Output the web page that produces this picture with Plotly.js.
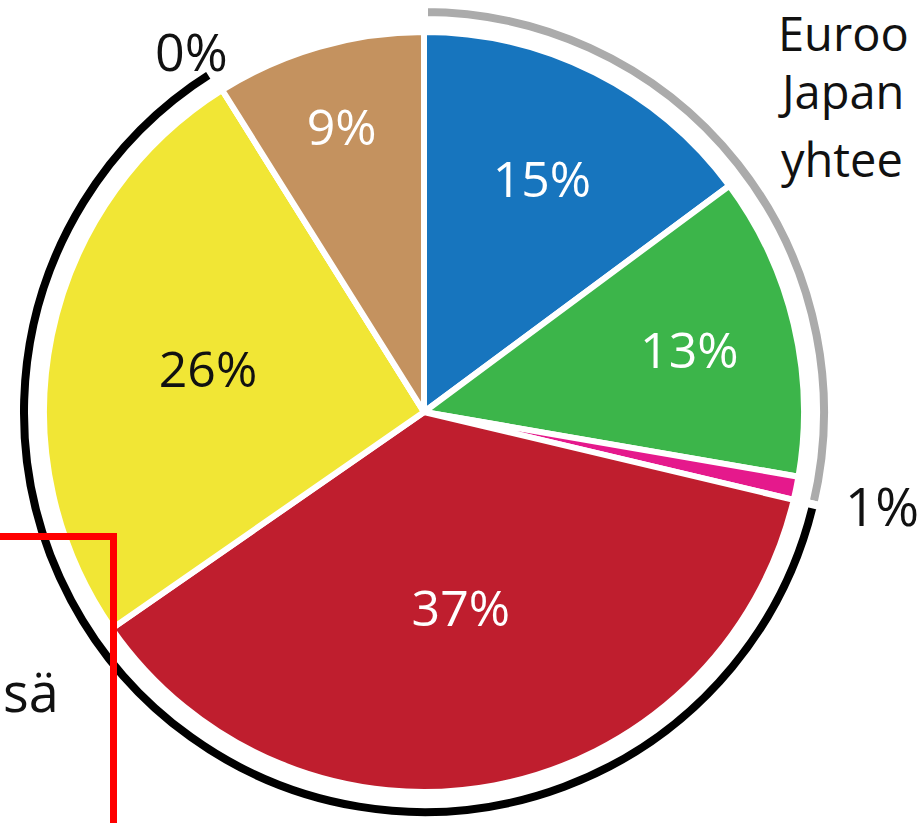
<!DOCTYPE html>
<html>
<head>
<meta charset="utf-8">
<script src="https://cdn.plot.ly/plotly-3.0.1.min.js"></script>
<style>
  html, body { margin: 0; padding: 0; background: #ffffff; }
  #chart { width: 920px; height: 823px; }
</style>
</head>
<body>
<div id="chart"></div>
<script>
// ---- data ----
const categories = ['Sininen', 'Vihreä', 'Magenta', 'Punainen', 'Keltainen', 'Tyhjä', 'Ruskea'];
const values = [15, 13, 1, 37, 26, 0, 9];
const pctText = ['15%', '13%', '1%', '37%', '26%', '0%', '9%'];
const groupOf = ['harmaa', 'harmaa', 'harmaa', 'musta', 'musta', 'musta', 'ei'];
const sliceColors = ['#1775BE', '#3CB54A', '#E5198C', '#BF1E2E', '#F1E635', '#C4925F', '#C4925F'];
const textColors = ['#ffffff', '#ffffff', '#ffffff', '#ffffff', '#111111', '#ffffff', '#ffffff'];
const textPos = ['inside', 'inside', 'none', 'inside', 'inside', 'none', 'inside'];
const sideTexts = ['Euroo', 'Japan', 'yhtee'];
const bottomText = 'sä';

// group ring (bracket arcs) built from the data
const groupNames = [];
const groupValues = [];
groupOf.forEach((g, i) => {
  let k = groupNames.indexOf(g);
  if (k < 0) { groupNames.push(g); groupValues.push(0); k = groupNames.length - 1; }
  groupValues[k] += values[i];
});
const groupColors = { harmaa: '#ABABAB', musta: '#000000', ei: 'rgba(0,0,0,0)' };
const groupLineW = { harmaa: 8, musta: 8, ei: 0 };

const W = 920, H = 823;
const px = x => x / W;
const py = y => 1 - y / H;

const ring = {
  type: 'pie',
  values: groupValues,
  labels: groupNames,
  sort: false,
  direction: 'clockwise',
  rotation: 0,
  hole: 392 / 408,
  domain: { x: [px(424 - 408), px(424 + 408)], y: [py(412 + 408), py(412 - 408)] },
  marker: {
    colors: groupNames.map(g => groupColors[g]),
    line: { color: '#ffffff', width: groupNames.map(g => groupLineW[g]) }
  },
  textinfo: 'none',
  hoverinfo: 'skip',
  showlegend: false
};

const main = {
  type: 'pie',
  values: values,
  labels: categories,
  text: pctText,
  textinfo: 'text',
  textposition: textPos,
  insidetextorientation: 'horizontal',
  insidetextfont: { family: 'Open Sans, sans-serif', size: 50, color: textColors },
  sort: false,
  direction: 'clockwise',
  rotation: 0,
  domain: { x: [px(424 - 380), px(424 + 380)], y: [py(412 + 380), py(412 - 380)] },
  marker: { colors: sliceColors, line: { color: '#ffffff', width: 6 } },
  hoverinfo: 'none',
  showlegend: false
};

const font = 'Open Sans, sans-serif';
const annotations = [
  { text: pctText[5], x: px(191.5), y: py(51), xanchor: 'center', yanchor: 'middle', font: { family: font, size: 52, color: '#111111' } },
  { text: pctText[2], x: px(881.5), y: py(505.5), xanchor: 'center', yanchor: 'middle', font: { family: font, size: 53, color: '#111111' } },
  { text: sideTexts[0], x: px(776), y: py(33), xanchor: 'left', yanchor: 'middle', font: { family: font, size: 47, color: '#111111' } },
  { text: sideTexts[1], x: px(776), y: py(91), xanchor: 'left', yanchor: 'middle', font: { family: font, size: 47, color: '#111111' } },
  { text: sideTexts[2], x: px(779), y: py(159), xanchor: 'left', yanchor: 'middle', font: { family: font, size: 47, color: '#111111' } },
  { text: bottomText, x: px(1), y: py(691), xanchor: 'left', yanchor: 'middle', font: { family: font, size: 54, color: '#111111' } }
].map(a => Object.assign({ xref: 'paper', yref: 'paper', showarrow: false }, a));

const shapes = [{
  type: 'path', xref: 'paper', yref: 'paper',
  path: 'M ' + px(-20) + ',' + py(536.5) + ' L ' + px(113.5) + ',' + py(536.5) + ' L ' + px(113.5) + ',' + py(850),
  line: { color: '#FF0000', width: 7 },
  layer: 'above'
}];

const layout = {
  width: W, height: H,
  margin: { l: 0, r: 0, t: 0, b: 0, pad: 0 },
  paper_bgcolor: '#ffffff',
  plot_bgcolor: '#ffffff',
  showlegend: false,
  annotations: annotations,
  shapes: shapes
};

Plotly.newPlot('chart', [ring, main], layout, { staticPlot: true, displayModeBar: false });
</script>
</body>
</html>
